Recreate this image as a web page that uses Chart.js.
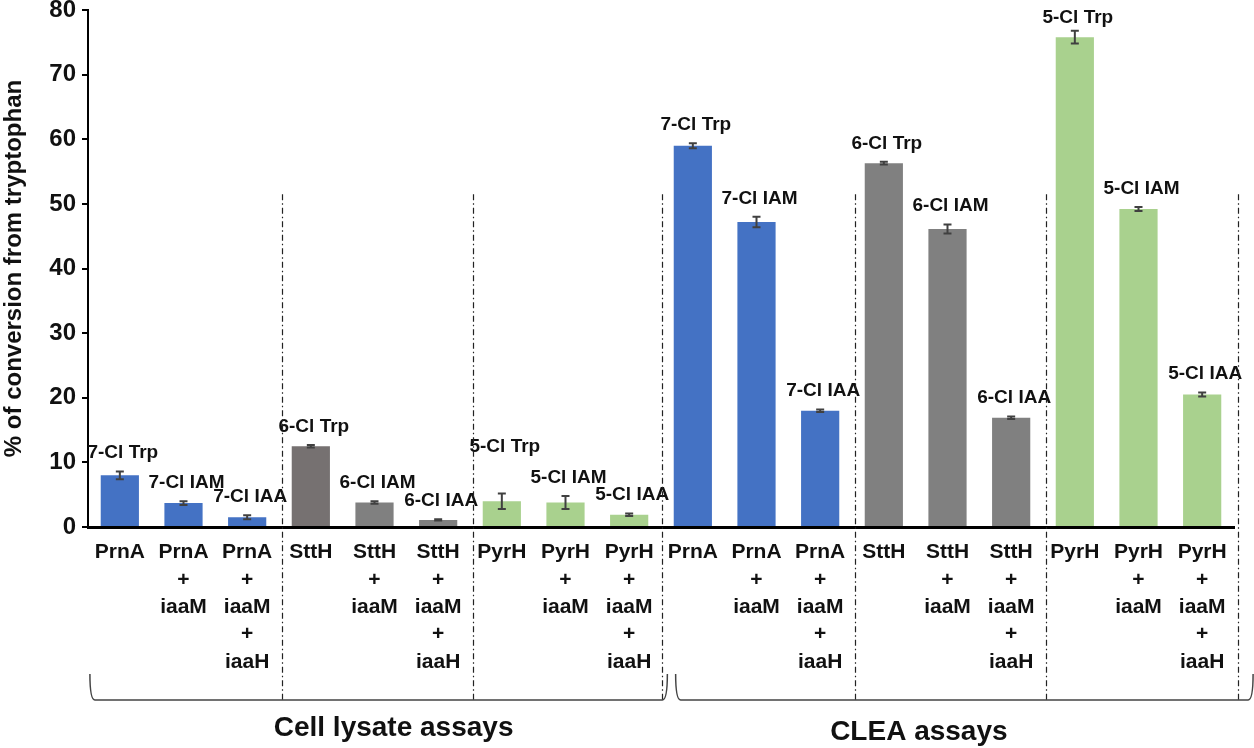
<!DOCTYPE html>
<html>
<head>
<meta charset="utf-8">
<script src="https://cdn.jsdelivr.net/npm/chart.js@4.4.0/dist/chart.umd.min.js"></script>
<style>
    html, body { margin: 0; padding: 0; background: #fff; }
    #wrap { width: 1254px; height: 748px; position: relative; }
</style>
</head>
<body>
<div id="wrap"><canvas id="graficoBarras"></canvas></div>
<script>
// categorias do eixo x (multi-linha)
const categorias = [
    ['PrnA'], ['PrnA', '+', 'iaaM'], ['PrnA', '+', 'iaaM', '+', 'iaaH'],
    ['SttH'], ['SttH', '+', 'iaaM'], ['SttH', '+', 'iaaM', '+', 'iaaH'],
    ['PyrH'], ['PyrH', '+', 'iaaM'], ['PyrH', '+', 'iaaM', '+', 'iaaH'],
    ['PrnA'], ['PrnA', '+', 'iaaM'], ['PrnA', '+', 'iaaM', '+', 'iaaH'],
    ['SttH'], ['SttH', '+', 'iaaM'], ['SttH', '+', 'iaaM', '+', 'iaaH'],
    ['PyrH'], ['PyrH', '+', 'iaaM'], ['PyrH', '+', 'iaaM', '+', 'iaaH']
];

// produto de cada barra
const produtos = [
    '7-Cl Trp', '7-Cl IAM', '7-Cl IAA',
    '6-Cl Trp', '6-Cl IAM', '6-Cl IAA',
    '5-Cl Trp', '5-Cl IAM', '5-Cl IAA',
    '7-Cl Trp', '7-Cl IAM', '7-Cl IAA',
    '6-Cl Trp', '6-Cl IAM', '6-Cl IAA',
    '5-Cl Trp', '5-Cl IAM', '5-Cl IAA'
];

// % de conversão
const conversao = [
    8.0, 3.7, 1.5,
    12.5, 3.8, 1.1,
    4.0, 3.8, 1.9,
    59.0, 47.2, 18.0,
    56.3, 46.1, 16.9,
    75.8, 49.2, 20.5
];

// desvio
const erros = [
    0.6, 0.3, 0.3,
    0.2, 0.2, 0.1,
    1.2, 1.0, 0.2,
    0.4, 0.8, 0.2,
    0.2, 0.7, 0.2,
    1.0, 0.3, 0.3
];

const grupos = ['Cell lysate assays', 'CLEA assays'];
const yTicks = [0, 10, 20, 30, 40, 50, 60, 70, 80];

const cores = [
    '#4472C4', '#4472C4', '#4472C4',
    '#767171', '#808080', '#808080',
    '#A9D18E', '#A9D18E', '#A9D18E',
    '#4472C4', '#4472C4', '#4472C4',
    '#808080', '#808080', '#808080',
    '#A9D18E', '#A9D18E', '#A9D18E'
];

const fonte = "'Liberation Sans', Arial, sans-serif";

// alguns rótulos ficam mais altos/baixos no original (px extra)
const elevarRotulo = { 6: 28, 15: -6 };

// barras de erro + rótulos dos produtos
const errosPlugin = {
    id: 'errosPlugin',
    afterDatasetsDraw(chart) {
        const { ctx, scales: { y } } = chart;
        const meta = chart.getDatasetMeta(0);
        ctx.save();
        meta.data.forEach((bar, i) => {
            const yTop = y.getPixelForValue(conversao[i] + erros[i]);
            const yBot = y.getPixelForValue(conversao[i] - erros[i]);
            ctx.strokeStyle = '#404040';
            ctx.lineWidth = 2;
            ctx.beginPath();
            ctx.moveTo(bar.x, yTop); ctx.lineTo(bar.x, yBot);
            ctx.moveTo(bar.x - 4, yTop); ctx.lineTo(bar.x + 4, yTop);
            ctx.moveTo(bar.x - 4, yBot); ctx.lineTo(bar.x + 4, yBot);
            ctx.stroke();

            ctx.fillStyle = '#111';
            ctx.font = `bold 19px ${fonte}`;
            ctx.textAlign = 'center';
            ctx.textBaseline = 'bottom';
            ctx.fillText(produtos[i], bar.x + 3, yTop - 9 - (elevarRotulo[i] || 0));
        });
        ctx.restore();
    }
};

// separadores tracejados, chaves e títulos dos grupos
const gruposPlugin = {
    id: 'gruposPlugin',
    afterDraw(chart) {
        const { ctx, chartArea, scales: { x, y } } = chart;
        ctx.save();

        // linhas traço-ponto
        ctx.strokeStyle = '#222';
        ctx.lineWidth = 1.2;
        ctx.setLineDash([6, 3, 1.5, 3]);
        [2.55, 5.55, 8.52, 11.55, 14.55, 17.57].forEach(v => {
            const px = Math.round(x.getPixelForValue(v)) + 0.5;
            ctx.beginPath();
            ctx.moveTo(px, y.getPixelForValue(51.5));
            ctx.lineTo(px, chartArea.bottom + 175);
            ctx.stroke();
        });
        ctx.setLineDash([]);

        // chaves
        const yLinha = chartArea.bottom + 173;
        ctx.strokeStyle = '#444';
        ctx.lineWidth = 1.5;
        const chave = (a, b) => {
            const x0 = x.getPixelForValue(a);
            const x1 = x.getPixelForValue(b);
            ctx.beginPath();
            ctx.moveTo(x0, yLinha - 26);
            ctx.quadraticCurveTo(x0, yLinha, x0 + 5, yLinha);
            ctx.lineTo(x1 - 5, yLinha);
            ctx.quadraticCurveTo(x1, yLinha, x1, yLinha - 26);
            ctx.stroke();
        };
        chave(-0.47, 8.6);
        chave(8.73, 17.8);

        // títulos
        ctx.fillStyle = '#111';
        ctx.font = `bold 28px ${fonte}`;
        ctx.textAlign = 'center';
        ctx.textBaseline = 'middle';
        ctx.fillText(grupos[0], x.getPixelForValue(4.3), chartArea.bottom + 201);
        ctx.fillText(grupos[1], x.getPixelForValue(12.55), chartArea.bottom + 205);

        ctx.restore();
    }
};

const ctxBarras = document.getElementById('graficoBarras').getContext('2d');
new Chart(ctxBarras, {
    type: 'bar',
    data: {
        labels: categorias,
        datasets: [{
            data: conversao,
            backgroundColor: cores,
            borderWidth: 0,
            barPercentage: 0.6,
            categoryPercentage: 1.0
        }]
    },
    options: {
        responsive: true,
        maintainAspectRatio: false,
        animation: false,
        devicePixelRatio: 1,
        layout: { padding: { left: 0, right: 20, top: 10, bottom: 0 } },
        plugins: {
            legend: { display: false },
            tooltip: { enabled: false },
            title: { display: false }
        },
        scales: {
            x: {
                grid: { display: false },
                border: { display: true, color: '#000', width: 3 },
                ticks: {
                    autoSkip: false,
                    maxRotation: 0,
                    minRotation: 0,
                    padding: 4,
                    color: '#111',
                    font: { family: fonte, size: 21, weight: 'bold', lineHeight: 1.3 }
                },
                afterFit: (scale) => { scale.height = 221; }
            },
            y: {
                min: 0,
                max: 80,
                afterBuildTicks: (scale) => { scale.ticks = yTicks.map(v => ({ value: v })); },
                grid: { drawOnChartArea: false, drawTicks: true, tickLength: 6, color: '#000', lineWidth: 2 },
                border: { display: true, color: '#000', width: 2 },
                ticks: {
                    padding: 6,
                    color: '#111',
                    font: { family: fonte, size: 24, weight: 'bold' }
                },
                title: {
                    display: true,
                    text: '% of conversion from tryptophan',
                    color: '#111',
                    padding: 0,
                    font: { family: fonte, size: 24, weight: 'bold' }
                },
                afterFit: (scale) => {
                    scale.width = 88;
                    scale.paddingTop = 0;
                    scale.paddingBottom = 0;
                }
            }
        }
    },
    plugins: [errosPlugin, gruposPlugin]
});
</script>
</body>
</html>
